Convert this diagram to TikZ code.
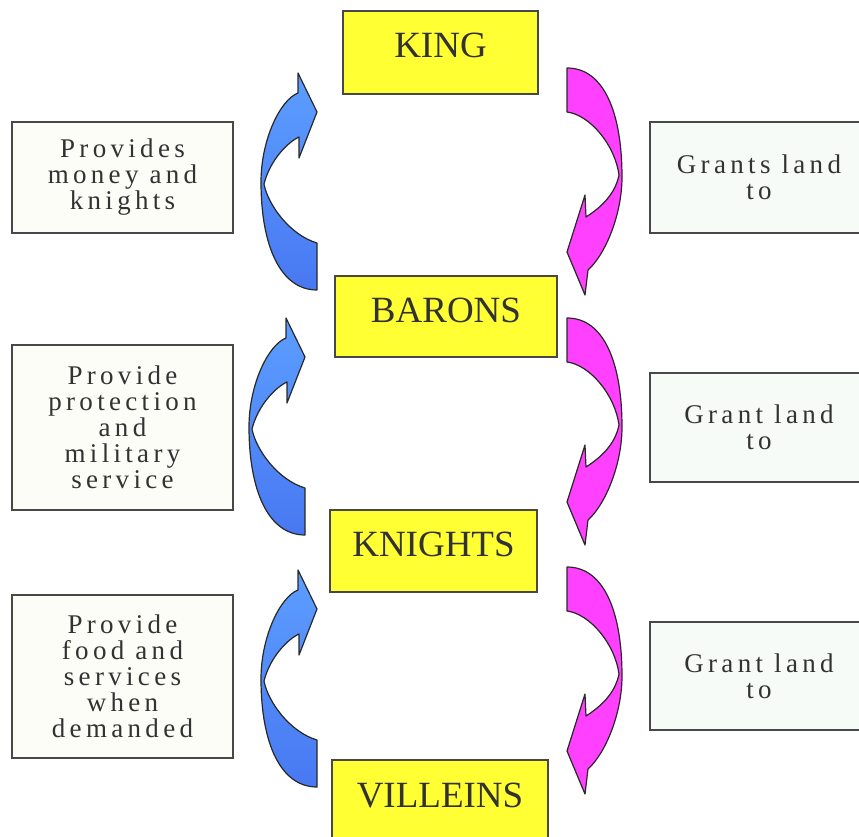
\documentclass[tikz,border=0pt]{standalone}
\usepackage{fontspec}
\setmainfont{Liberation Serif}
\newfontfamily\tracked[LetterSpace=16]{Liberation Serif}

\definecolor{rankfill}{RGB}{255,255,51}
\definecolor{edge}{RGB}{72,72,72}
\definecolor{inkgray}{RGB}{50,50,50}
\definecolor{notefillL}{RGB}{253,253,248}
\definecolor{notefillR}{RGB}{247,251,247}
\definecolor{upTop}{RGB}{92,158,255}
\definecolor{upBot}{RGB}{72,120,242}
\definecolor{downFill}{RGB}{255,64,255}
\definecolor{arrowline}{RGB}{40,40,40}

\tikzset{
  rank/.style={draw=edge, line width=1.6pt, fill=rankfill, inner sep=0pt,
    text=inkgray, font=\fontsize{37}{40}\selectfont,
    text height=25pt, text depth=14pt},
  note/.style={draw=edge, line width=1.4pt, inner sep=0pt, align=center,
    text=inkgray, font=\tracked\fontsize{27}{26}\selectfont},
  flowline/.style={draw=arrowline, line width=1.2pt, line join=round},
  % upward curved arrow (tail lower right, head on top)
  upflow/.pic={
    \path[flowline, top color=upTop, bottom color=upBot]
      (298,73) -- (317,112) -- (299,158) -- (299,137)
      .. controls (288,142) and (270,160) .. (264,184)
      .. controls (268,205) and (290,235) .. (317,243)
      -- (317,290)
      .. controls (280,290) and (261,245) .. (261,182)
      .. controls (261,140) and (280,100) .. (298,93)
      -- cycle;
  },
  % downward curved arrow (tail upper left, head at the bottom)
  downflow/.pic={
    \path[flowline, fill=downFill]
      (567,68) .. controls (605,68) and (622,115) .. (622,177)
      .. controls (622,215) and (605,255) .. (588,270)
      -- (585,295) -- (567,252) -- (585,195) -- (586,217)
      .. controls (600,208) and (615,195) .. (619,175)
      .. controls (615,145) and (590,115) .. (567,112)
      -- cycle;
  }
}

\begin{document}
\begin{tikzpicture}[x=1pt, y=-1pt]
  \useasboundingbox (0,0) rectangle (859,837);
  \clip (0,0) rectangle (859,837);
  \fill[white] (0,0) rectangle (859,837);

  % ranks of the feudal order
  \node[rank, minimum width=195pt, minimum height=83pt] (king)     at (440.5,52.5)  {KING};
  \node[rank, minimum width=222pt, minimum height=81pt] (barons)   at (446,316.5)   {BARONS};
  \node[rank, minimum width=207pt, minimum height=82pt] (knights)  at (433.5,551)   {KNIGHTS};
  \node[rank, minimum width=216pt, minimum height=83pt] (villeins) at (440,801.5)   {VILLEINS};

  % duties owed upward
  \node[note, fill=notefillL, minimum width=221pt, minimum height=111pt] (duty1) at (122.5,177.5)
    {\fontsize{27}{25.5}\selectfont Provides\\money and\\knights};
  \node[note, fill=notefillL, minimum width=221pt, minimum height=165pt] (duty2) at (122.5,427.5)
    {\fontsize{27}{27}\selectfont Provide\\protection\\and\\military\\service};
  \node[note, fill=notefillL, minimum width=221pt, minimum height=163pt] (duty3) at (122.5,676.5)
    {\fontsize{27}{27.5}\selectfont Provide\\food and\\services\\when\\demanded};

  % land granted downward
  \node[note, fill=notefillR, minimum width=218pt, minimum height=111pt] (grant1) at (759,177.5)
    {\fontsize{27}{28}\selectfont Grants land\\to};
  \node[note, fill=notefillR, minimum width=218pt, minimum height=109pt] (grant2) at (759,427.5)
    {\fontsize{27}{28}\selectfont Grant land\\to};
  \node[note, fill=notefillR, minimum width=218pt, minimum height=108pt] (grant3) at (759,676)
    {\fontsize{27}{28}\selectfont Grant land\\to};

  % curved arrows between the ranks
  \pic (up1) at (0,0)     {upflow};
  \pic (up2) at (-12,245) {upflow};
  \pic (up3) at (0,497)   {upflow};
  \pic (down1) at (0,0)   {downflow};
  \pic (down2) at (0,250) {downflow};
  \pic (down3) at (0,499) {downflow};
\end{tikzpicture}
\end{document}
